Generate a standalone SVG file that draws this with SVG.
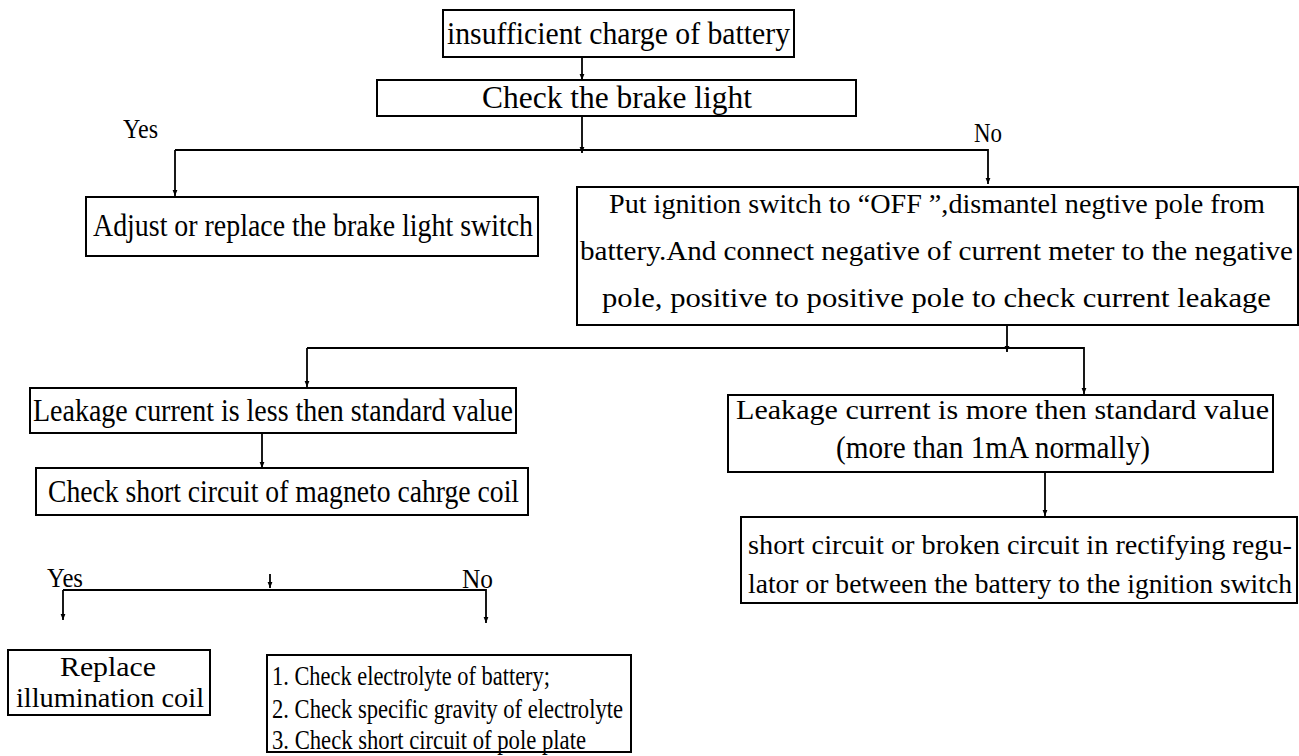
<svg xmlns="http://www.w3.org/2000/svg" width="1299" height="756" viewBox="0 0 1299 756">
<defs>
<style>
.box{fill:#fff;stroke:#000;stroke-width:2}
.t{font-family:"Liberation Serif","Times New Roman",serif;font-size:31px;fill:#000}
.s{font-size:27px}
.l{font-size:28px}
.m{font-size:28px}
.c{stroke:#000;stroke-width:1.8;fill:none}
</style>
<marker id="ah" viewBox="0 0 10 10" refX="10" refY="5" markerWidth="6" markerHeight="7" markerUnits="userSpaceOnUse" orient="auto">
<path d="M0,1 L10,5 L0,9 Z" fill="#000"/>
</marker>
</defs>
<rect width="1299" height="756" fill="#fff"/>
<g id="connectors">
<path class="c" d="M582,57 V80" marker-end="url(#ah)"/>
<path class="c" d="M582,116 V153" marker-end="url(#ah)"/>
<path class="c" d="M175,150 H988 V184" marker-end="url(#ah)"/>
<path class="c" d="M175,150 V196" marker-end="url(#ah)"/>
<path class="c" d="M1007,325 V352" marker-end="url(#ah)"/>
<path class="c" d="M307,348 H1084 V394" marker-end="url(#ah)"/>
<path class="c" d="M307,348 V387" marker-end="url(#ah)"/>
<path class="c" d="M262,433 V468" marker-end="url(#ah)"/>
<path class="c" d="M270,574 V588" marker-end="url(#ah)"/>
<path class="c" d="M63,590 H486 V623" marker-end="url(#ah)"/>
<path class="c" d="M63,590 V620" marker-end="url(#ah)"/>
<path class="c" d="M1045,472 V516" marker-end="url(#ah)"/>
<text class="t s" x="123" y="138" textLength="35" lengthAdjust="spacingAndGlyphs">Yes</text>
<text class="t s" x="974" y="142" textLength="28" lengthAdjust="spacingAndGlyphs">No</text>
<text class="t s" x="47" y="587" textLength="36" lengthAdjust="spacingAndGlyphs">Yes</text>
<text class="t s" x="462" y="588" textLength="31" lengthAdjust="spacingAndGlyphs">No</text>
</g>
<g id="n1">
<rect class="box" x="443" y="10" width="351" height="47"/>
<text class="t" x="447" y="44" textLength="343" lengthAdjust="spacingAndGlyphs">insufficient charge of battery</text>
</g>
<g id="n2">
<rect class="box" x="377" y="80" width="479" height="36"/>
<text class="t" x="482" y="108" textLength="270" lengthAdjust="spacingAndGlyphs">Check the brake light</text>
</g>
<g id="n3">
<rect class="box" x="86" y="197" width="452" height="59"/>
<text class="t" x="93" y="236" textLength="440" lengthAdjust="spacingAndGlyphs">Adjust or replace the brake light switch</text>
</g>
<g id="n4">
<rect class="box" x="577" y="187" width="721" height="138"/>
<text class="t m" x="609" y="213" textLength="656" lengthAdjust="spacingAndGlyphs">Put ignition switch to “OFF ”,dismantel negtive pole from</text>
<text class="t m" x="580" y="260" textLength="713" lengthAdjust="spacingAndGlyphs">battery.And connect negative of current meter to the negative</text>
<text class="t m" x="602" y="307" textLength="669" lengthAdjust="spacingAndGlyphs">pole, positive to positive pole to check current leakage</text>
</g>
<g id="n5">
<rect class="box" x="30" y="388" width="486" height="45"/>
<text class="t" x="33" y="421" textLength="480" lengthAdjust="spacingAndGlyphs">Leakage current is less then standard value</text>
</g>
<g id="n6">
<rect class="box" x="36" y="468" width="492" height="47"/>
<text class="t" x="48" y="502" textLength="471" lengthAdjust="spacingAndGlyphs">Check short circuit of magneto cahrge coil</text>
</g>
<g id="n7">
<rect class="box" x="8" y="650" width="202" height="65"/>
<text class="t s" x="60" y="676" textLength="96" lengthAdjust="spacingAndGlyphs">Replace</text>
<text class="t s" x="16" y="707" textLength="188" lengthAdjust="spacingAndGlyphs">illumination coil</text>
</g>
<g id="n8">
<rect class="box" x="267" y="655" width="364" height="97"/>
<text class="t l" x="272" y="685" textLength="278" lengthAdjust="spacingAndGlyphs">1. Check electrolyte of battery;</text>
<text class="t l" x="272" y="718" textLength="351" lengthAdjust="spacingAndGlyphs">2. Check specific gravity of electrolyte</text>
<text class="t l" x="272" y="749" textLength="314" lengthAdjust="spacingAndGlyphs">3. Check short circuit of pole plate</text>
</g>
<g id="n9">
<rect class="box" x="728" y="395" width="545" height="77"/>
<text class="t m" x="736" y="419" textLength="533" lengthAdjust="spacingAndGlyphs">Leakage current is more then standard value</text>
<text class="t" x="836" y="458" textLength="314" lengthAdjust="spacingAndGlyphs">(more than 1mA normally)</text>
</g>
<g id="n10">
<rect class="box" x="741" y="517" width="556" height="86"/>
<text class="t m" x="748" y="554" textLength="544" lengthAdjust="spacingAndGlyphs">short circuit or broken circuit in rectifying regu-</text>
<text class="t m" x="748" y="593" textLength="544" lengthAdjust="spacingAndGlyphs">lator or between the battery to the ignition switch</text>
</g>
</svg>
